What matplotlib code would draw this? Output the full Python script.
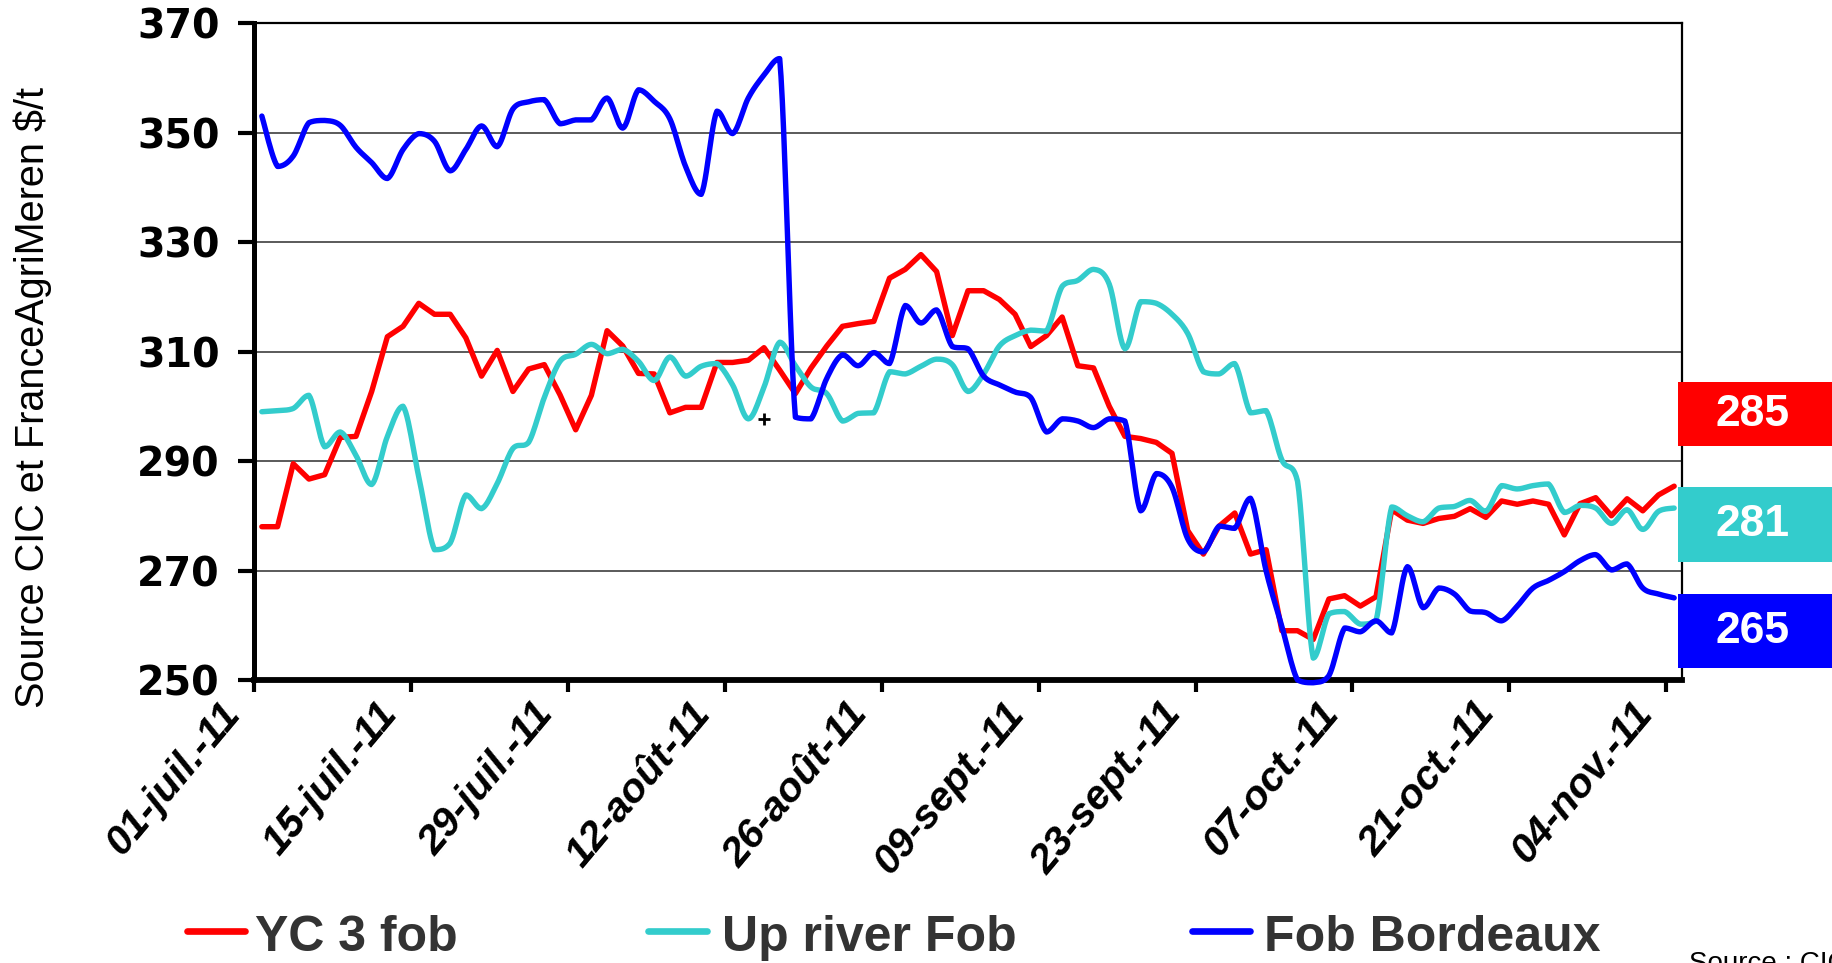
import numpy as np
import matplotlib
matplotlib.use("Agg")
import matplotlib.pyplot as plt
from matplotlib.lines import Line2D
from matplotlib.patches import Rectangle
from matplotlib.transforms import ScaledTranslation

plt.rcParams['font.family'] = ['Liberation Sans', 'DejaVu Sans']

# ---------------- data (business days, 01-juil.-11 .. 04-nov.-11) ----------------
tick_labels = ["01-juil.-11", "15-juil.-11", "29-juil.-11", "12-août-11", "26-août-11",
               "09-sept.-11", "23-sept.-11", "07-oct.-11", "21-oct.-11", "04-nov.-11"]
label_every = 10

yc3_fob = [
    278.0, 278.0, 289.5, 286.7, 287.5, 294.3, 294.5, 302.7, 312.7, 314.6,
    318.8, 316.8, 316.8, 312.5, 305.5, 310.2, 302.7, 306.8, 307.6, 302.1,
    295.7, 302.0, 313.8, 311.0, 306.0, 305.9, 298.8, 299.8, 299.8, 308.0,
    308.0, 308.4, 310.7, 306.6, 302.3, 307.0, 311.0, 314.6, 315.1, 315.5,
    323.4, 325.0, 327.7, 324.6, 312.9, 321.1, 321.1, 319.5, 316.8, 310.9,
    312.9, 316.3, 307.4, 307.0, 300.0, 294.5, 294.1, 293.4, 291.4, 277.3,
    273.0, 278.1, 280.5, 273.0, 273.8, 259.0, 259.0, 257.4, 264.8, 265.4,
    263.5, 265.2, 281.1, 279.2, 278.6, 279.5, 279.9, 281.3, 279.7, 282.7,
    282.1, 282.7, 282.1, 276.5, 282.2, 283.3, 280.0, 283.1, 280.9, 283.8,
    285.4]

up_river_fob = [
    299.0, 299.2, 299.6, 302.0, 292.6, 295.3, 291.0, 285.7, 294.5, 300.0,
    287.1, 273.8, 275.0, 283.8, 281.3, 285.9, 292.3, 293.4, 301.6, 308.2,
    309.5, 311.3, 309.6, 310.4, 308.2, 304.7, 309.0, 305.5, 307.3, 307.8,
    303.9, 297.7, 303.5, 311.7, 307.4, 303.5, 302.3, 297.3, 298.7, 298.8,
    306.3, 305.9, 307.3, 308.6, 307.6, 302.7, 305.9, 311.0, 312.9, 313.9,
    313.7, 321.9, 323.0, 325.0, 322.3, 310.5, 319.1, 318.8, 316.8, 313.3,
    306.3, 305.9, 307.8, 298.8, 299.2, 290.2, 286.3, 254.0, 262.1, 262.5,
    260.2, 260.8, 281.6, 280.0, 278.9, 281.4, 281.7, 282.8, 280.8, 285.5,
    284.9, 285.5, 285.8, 280.6, 281.9, 281.4, 278.6, 281.1, 277.5, 280.8,
    281.4]

fob_bordeaux = [
    353.0, 343.8, 345.7, 351.8, 352.2, 351.3, 347.3, 344.5, 341.6, 346.9,
    349.8, 348.4, 343.0, 346.9, 351.2, 347.4, 354.3, 355.6, 356.0, 351.6,
    352.3, 352.3, 356.3, 350.8, 357.8, 355.7, 352.5, 343.8, 338.7, 353.9,
    349.8, 356.3, 360.5, 363.5, 298.0, 297.7, 305.1, 309.4, 307.4, 309.8,
    307.8, 318.4, 315.2, 317.6, 310.9, 310.5, 305.5, 303.9, 302.6, 301.6,
    295.3, 297.7, 297.3, 296.1, 297.7, 297.3, 280.9, 287.7, 285.2, 275.8,
    273.4, 278.1, 277.7, 283.2, 269.9, 259.8, 250.0, 249.5, 250.8, 259.5,
    258.8, 260.8, 258.6, 270.7, 263.2, 266.8, 265.7, 262.6, 262.3, 260.8,
    263.5, 266.8, 268.2, 269.8, 271.8, 272.9, 270.1, 271.2, 266.8, 265.7,
    265.0]

series_names = ["YC 3 fob", "Up river Fob", "Fob Bordeaux"]
series_colors = ["#FF0000", "#33CCCC", "#0000FF"]
series_smooth = [False, True, True]   # Excel "smoothed line" option

stray_x = [32.0]
stray_y = [297.7]


def smooth_path(xv, yv, steps=12):
    """Render a smoothed line (Bezier through every data point, no overshoot)."""
    P = np.column_stack([np.asarray(xv, float), np.asarray(yv, float)])
    n = len(P)
    ext = np.vstack([P[0], P, P[-1]])
    t = np.linspace(0, 1, steps, endpoint=False)[:, None]
    out = []
    for i in range(n - 1):
        p0, p1, p2, p3 = ext[i], ext[i + 1], ext[i + 2], ext[i + 3]
        c1 = p1 + (p2 - p0) / 6.0
        c2 = p2 - (p3 - p1) / 6.0
        lo, hi = min(p1[1], p2[1]), max(p1[1], p2[1])
        c1[1] = np.clip(c1[1], lo, hi)
        c2[1] = np.clip(c2[1], lo, hi)
        seg = ((1 - t) ** 3) * p1 + 3 * ((1 - t) ** 2) * t * c1 + 3 * (1 - t) * t ** 2 * c2 + t ** 3 * p2
        out.append(seg)
    out.append(P[-1:])
    out = np.vstack(out)
    return out[:, 0], out[:, 1]


# ---------------- figure ----------------
W, H = 1832, 963
fig = plt.figure(figsize=(W / 100, H / 100), dpi=100)
fig.patch.set_facecolor("white")
L, R, T, B = 254, 1682, 23, 680
ax = fig.add_axes([L / W, 1 - B / H, (R - L) / W, (B - T) / H])

all_series = [yc3_fob, up_river_fob, fob_bordeaux]
x = np.arange(len(yc3_fob))
for vals, col, sm in zip(all_series, series_colors, series_smooth):
    if sm:
        xs, ys = smooth_path(x, vals)
    else:
        xs, ys = x, np.asarray(vals)
    ax.plot(xs, ys, color=col, lw=3.9, solid_joinstyle="round",
            solid_capstyle="round", zorder=3, clip_on=False)
ax.plot(stray_x, stray_y, "+", color="black", ms=8, mew=2, zorder=4)

ax.set_ylim(250, 370)
ax.set_yticks(np.arange(250, 371, 20))
ax.grid(axis="y", color="#4d4d4d", lw=1.3)
ax.set_axisbelow(True)

# tick marks at category boundaries; labels drawn as rotated texts
tick_pos = np.arange(0, len(x), label_every) - 0.5
ax.set_xticks(tick_pos)
ax.set_xticklabels([""] * len(tick_pos))
ax.set_xlim(-0.5, len(x) - 0.5)
lab_tr = ax.get_xaxis_transform() + ScaledTranslation(0, -19.5 / 72, fig.dpi_scale_trans)
for tp, lab in zip(tick_pos, tick_labels):
    ax.text(tp - 1.35, 0, lab, transform=lab_tr, rotation=50, ha="right",
            va="center", rotation_mode="anchor", fontsize=29.5,
            fontweight="bold", fontstyle="italic", clip_on=False)

for lab in ax.get_yticklabels():
    lab.set_fontsize(28.5)
    lab.set_fontweight("bold")
    lab.set_fontfamily("DejaVu Sans")

ax.tick_params(axis="y", length=11.5, width=3, pad=13, direction="out")
ax.tick_params(axis="x", length=8.5, width=3, pad=2, direction="out")

ax.spines["left"].set_linewidth(3.6)
ax.spines["bottom"].set_linewidth(4.2)
ax.spines["top"].set_linewidth(1.6)
ax.spines["right"].set_linewidth(1.6)

# y label
fig.text(33 / W, 1 - 397 / H, "Source CIC et FranceAgriMeren $/t", rotation=90,
         ha="center", va="center", fontsize=28.5, color="black")

# legend (manual)
leg_line_y = 1 - 931 / H
leg_base_y = 1 - 951 / H
leg_pos = [(187, 245, 255), (648, 707, 722), (1192, 1250, 1264)]
for (x0, x1, tx), name, col in zip(leg_pos, series_names, series_colors):
    fig.add_artist(Line2D([x0 / W, x1 / W], [leg_line_y, leg_line_y],
                          transform=fig.transFigure, color=col, lw=4.8,
                          solid_capstyle="round"))
    fig.text(tx / W, leg_base_y, name, ha="left", va="baseline", fontsize=36,
             fontweight="bold", color="#333333")

# end-value boxes
boxes = [(382, 446), (487, 562), (594, 668)]
for (y0, y1), vals, col in zip(boxes, all_series, series_colors):
    fig.add_artist(Rectangle((1678 / W, 1 - y1 / H), (W - 1678) / W, (y1 - y0) / H,
                             transform=fig.transFigure, facecolor=col,
                             edgecolor="none", zorder=5))
    fig.text(1753 / W, 1 - (y0 + y1) / 2 / H, f"{round(vals[-1]):d}",
             ha="center", va="center", fontsize=32, fontweight="bold",
             color="white", zorder=6)

fig.text(1689 / W, 1 - 951 / H, "Source : CIC", ha="left", va="top",
         fontsize=20, color="black")

fig.savefig("out.png", dpi=100, facecolor="white")
